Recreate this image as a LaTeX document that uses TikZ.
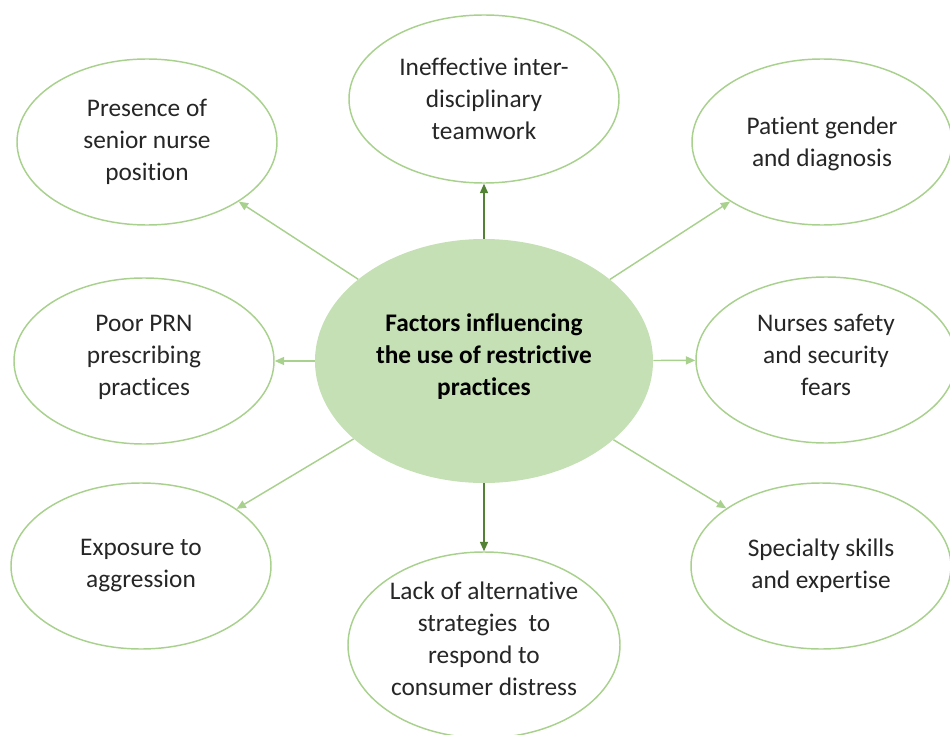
\documentclass[tikz,border=0pt]{standalone}
\usepackage{fontspec}
\setmainfont{Carlito}[Ligatures=NoCommon]
\usetikzlibrary{arrows.meta,shapes.geometric}
\definecolor{Rim}{HTML}{A9D18E}
\definecolor{Hub}{HTML}{C5E0B4}
\definecolor{Stem}{HTML}{548235}
\newcommand{\Factor}[5][]{%
  \node[factor,#1] (#2) at (#3,#4) {#5};%
}

\begin{document}
\begin{tikzpicture}[x=0.75pt,y=-0.75pt,
  factor/.style={ellipse,draw=Rim,line width=1.1pt,fill=white,inner sep=0pt,
    minimum width=195pt,minimum height=124.5pt,align=center,
    font=\fontsize{19}{24}\selectfont,text=black!85},
  hub/.style={ellipse,fill=Hub,inner sep=0pt,minimum width=253.5pt,
    minimum height=183pt,align=center,text depth=10pt,
    font=\fontsize{19}{24}\selectfont\bfseries},
  spoke/.style={draw=Rim,line width=1.1pt,-{Triangle[length=7pt,width=6pt]}}]
\useasboundingbox (0,0) rectangle (950,735);

% centre
\node[hub] (hub) at (484,361) {Factors influencing\\the use of restrictive\\practices};

% factors round the centre
\Factor[minimum width=202.5pt,minimum height=126pt]{team}{484}{99}{Ineffective inter-\\disciplinary\\teamwork}
\Factor{senior}{147}{142}{Presence of\\senior nurse\\position}
\Factor[text depth=0pt]{gender}{822}{142}{Patient gender\\and diagnosis}
\Factor[text depth=8pt]{prn}{144}{361}{Poor PRN\\prescribing\\practices}
\Factor[text depth=8pt]{fears}{826}{360}{Nurses safety\\and security\\fears}
\Factor{aggr}{141}{566}{Exposure to\\aggression}
\Factor{skills}{821}{566}{Specialty skills\\and expertise}
\Factor[minimum width=204pt,minimum height=139.5pt,text depth=10pt]{alt}{484}{645}{Lack of alternative\\strategies~ to\\respond to\\consumer distress}

% spokes
\foreach \f in {senior,gender,prn,fears,aggr,skills}
  \draw[spoke] (hub) -- (\f);
\draw[spoke,draw=Stem] (hub) -- (team);
\draw[spoke,draw=Stem] (hub) -- (alt);
\end{tikzpicture}
\end{document}
